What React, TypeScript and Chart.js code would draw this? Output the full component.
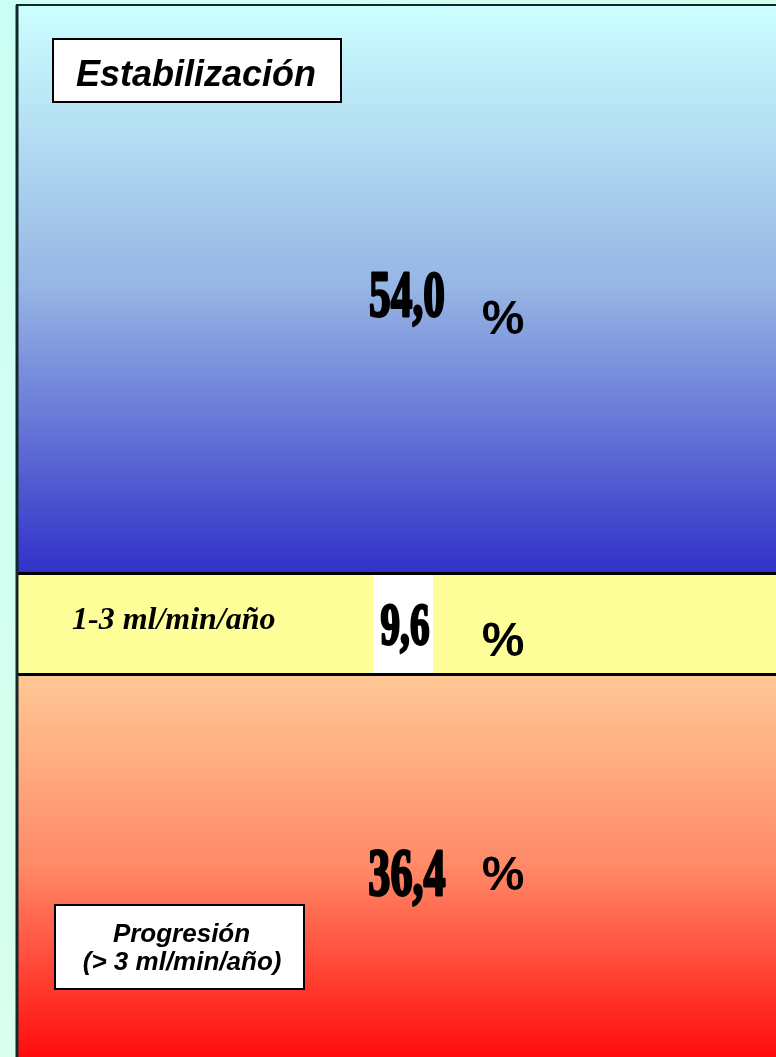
import React, { useEffect, useRef } from "react";
import { Chart, registerables } from "chart.js";

Chart.register(...registerables);

// ---- data ----
const categories = ["FG"];
const segmentNames = ["Progresión", "1-3 ml/min/año", "Estabilización"];
const segmentValues = [36.4, 9.6, 54.0];
const valueLabels = ["36,4", "9,6", "54,0"];
const unitLabel = "%";
const topBoxLabel = "Estabilización";
const middleLabel = "1-3 ml/min/año";
const bottomBoxLines = ["Progresión", " (> 3 ml/min/año)"];

const W = 776;
const H = 1057;

function segBounds(chart: any, i: number) {
  const y = chart.scales.y;
  let base = 0;
  for (let k = 0; k < i; k++) base += segmentValues[k];
  const top = base + segmentValues[i];
  return { top: y.getPixelForValue(top), bottom: y.getPixelForValue(base) };
}

function gradientFor(ctx: any) {
  const chart = ctx.chart;
  const i = ctx.datasetIndex;
  if (!chart.chartArea || !chart.scales.y) return "#ffff99";
  const { top, bottom } = segBounds(chart, i);
  const c = chart.ctx;
  if (i === 2) {
    const g = c.createLinearGradient(0, top, 0, bottom);
    g.addColorStop(0, "#ccffff");
    g.addColorStop(0.5, "#96b4e4");
    g.addColorStop(1, "#3131c8");
    return g;
  }
  if (i === 0) {
    const g = c.createLinearGradient(0, top, 0, bottom);
    g.addColorStop(0, "#ffc896");
    g.addColorStop(0.5, "#ff8a68");
    g.addColorStop(1, "#ff0c0c");
    return g;
  }
  return "#ffff99";
}

const decorPlugin = {
  id: "decor",
  beforeDraw(chart: any) {
    const c = chart.ctx;
    c.save();
    const g = c.createLinearGradient(0, 0, W, H);
    g.addColorStop(0, "#ccfff4");
    g.addColorStop(1, "#e0ffea");
    c.fillStyle = g;
    c.fillRect(0, 0, W, H);
    c.restore();
  },
  afterDatasetsDraw(chart: any) {
    const c = chart.ctx;
    const area = chart.chartArea;
    const x = chart.scales.x;
    const cx = x.getPixelForValue(0);
    const numX = cx + 10;
    const pctX = cx + 106;
    c.save();

    // white box behind middle value
    const mid = segBounds(chart, 1);
    c.fillStyle = "#ffffff";
    c.fillRect(numX - 34, mid.top, 60, mid.bottom - mid.top);

    // borders
    c.strokeStyle = "#000000";
    c.lineWidth = 3;
    for (let i = 0; i < 2; i++) {
      const b = segBounds(chart, i);
      c.beginPath();
      c.moveTo(area.left, b.top);
      c.lineTo(area.right, b.top);
      c.stroke();
    }
    c.strokeStyle = "#102828";
    c.lineWidth = 3;
    c.beginPath();
    c.moveTo(area.left - 1, area.top - 1);
    c.lineTo(area.left - 1, area.bottom);
    c.stroke();
    c.lineWidth = 2;
    c.beginPath();
    c.moveTo(area.left - 2, area.top - 1);
    c.lineTo(area.right, area.top - 1);
    c.stroke();

    // values + %
    const numOffsets = [29, 20, 26];
    const pctOffsets = [24, 32, 44];
    const numSizes = [52, 46, 51];
    c.fillStyle = "#000000";
    c.strokeStyle = "#000000";
    c.textAlign = "center";
    c.textBaseline = "alphabetic";
    for (let i = 0; i < segmentValues.length; i++) {
      const b = segBounds(chart, i);
      const centerY = (b.top + b.bottom) / 2;
      c.save();
      c.translate(i === 1 ? numX - 2 : numX, centerY + numOffsets[i]);
      c.scale(0.85, 1.3);
      c.font = `bold ${numSizes[i]}px "Liberation Serif", "Times New Roman", serif`;
      c.lineWidth = 2.2;
      c.lineJoin = "round";
      c.strokeText(valueLabels[i], 0, 0);
      c.fillText(valueLabels[i], 0, 0);
      c.restore();
      c.font = 'bold 48px "Liberation Sans", Arial, sans-serif';
      c.fillText(unitLabel, pctX, centerY + pctOffsets[i]);
    }

    // top box
    const top = segBounds(chart, 2);
    const bx = area.left + 35;
    const by = top.top + 33;
    c.fillStyle = "#ffffff";
    c.fillRect(bx, by, 288, 63);
    c.strokeStyle = "#000000";
    c.lineWidth = 2;
    c.strokeRect(bx, by, 288, 63);
    c.fillStyle = "#000000";
    c.font = 'italic bold 36px "Liberation Sans", Arial, sans-serif';
    c.fillText(topBoxLabel, bx + 143, by + 47);

    // middle label
    c.font = 'italic bold 32px "Liberation Serif", "Times New Roman", serif';
    c.textAlign = "left";
    c.fillText(middleLabel, area.left + 54, (mid.top + mid.bottom) / 2 + 5);

    // bottom box
    const bot = segBounds(chart, 0);
    const px = area.left + 37;
    const pw = 249;
    const ph = 84;
    const py = bot.bottom - 68 - ph;
    c.fillStyle = "#ffffff";
    c.fillRect(px, py, pw, ph);
    c.strokeStyle = "#000000";
    c.lineWidth = 2;
    c.strokeRect(px, py, pw, ph);
    c.fillStyle = "#000000";
    c.textAlign = "center";
    c.font = 'italic bold 26px "Liberation Sans", Arial, sans-serif';
    c.fillText(bottomBoxLines[0], px + pw / 2 + 2, py + 37);
    c.fillText(bottomBoxLines[1], px + pw / 2 - 1, py + 65);

    c.restore();
  },
};

export default function App() {
  const ref = useRef<HTMLCanvasElement>(null);
  useEffect(() => {
    if (!ref.current) return;
    const chart = new Chart(ref.current, {
      type: "bar",
      data: {
        labels: categories,
        datasets: segmentValues.map((v, i) => ({
          label: segmentNames[i],
          data: [v],
          backgroundColor: gradientFor,
          borderWidth: 0,
          barPercentage: 1,
          categoryPercentage: 1,
        })),
      },
      options: {
        responsive: false,
        animation: false,
        devicePixelRatio: 1,
        layout: { padding: { left: 18, top: 6, right: 0, bottom: 0 } },
        plugins: { legend: { display: false }, tooltip: { enabled: false } },
        scales: {
          x: { stacked: true, display: false },
          y: { stacked: true, display: false, min: 0, max: 100 },
        },
      },
      plugins: [decorPlugin],
    });
    return () => chart.destroy();
  }, []);
  return (
    <div style={{ position: "fixed", left: 0, top: 0, width: W, height: H }}>
      <canvas ref={ref} width={W} height={H} style={{ display: "block", width: W, height: H }} />
    </div>
  );
}
